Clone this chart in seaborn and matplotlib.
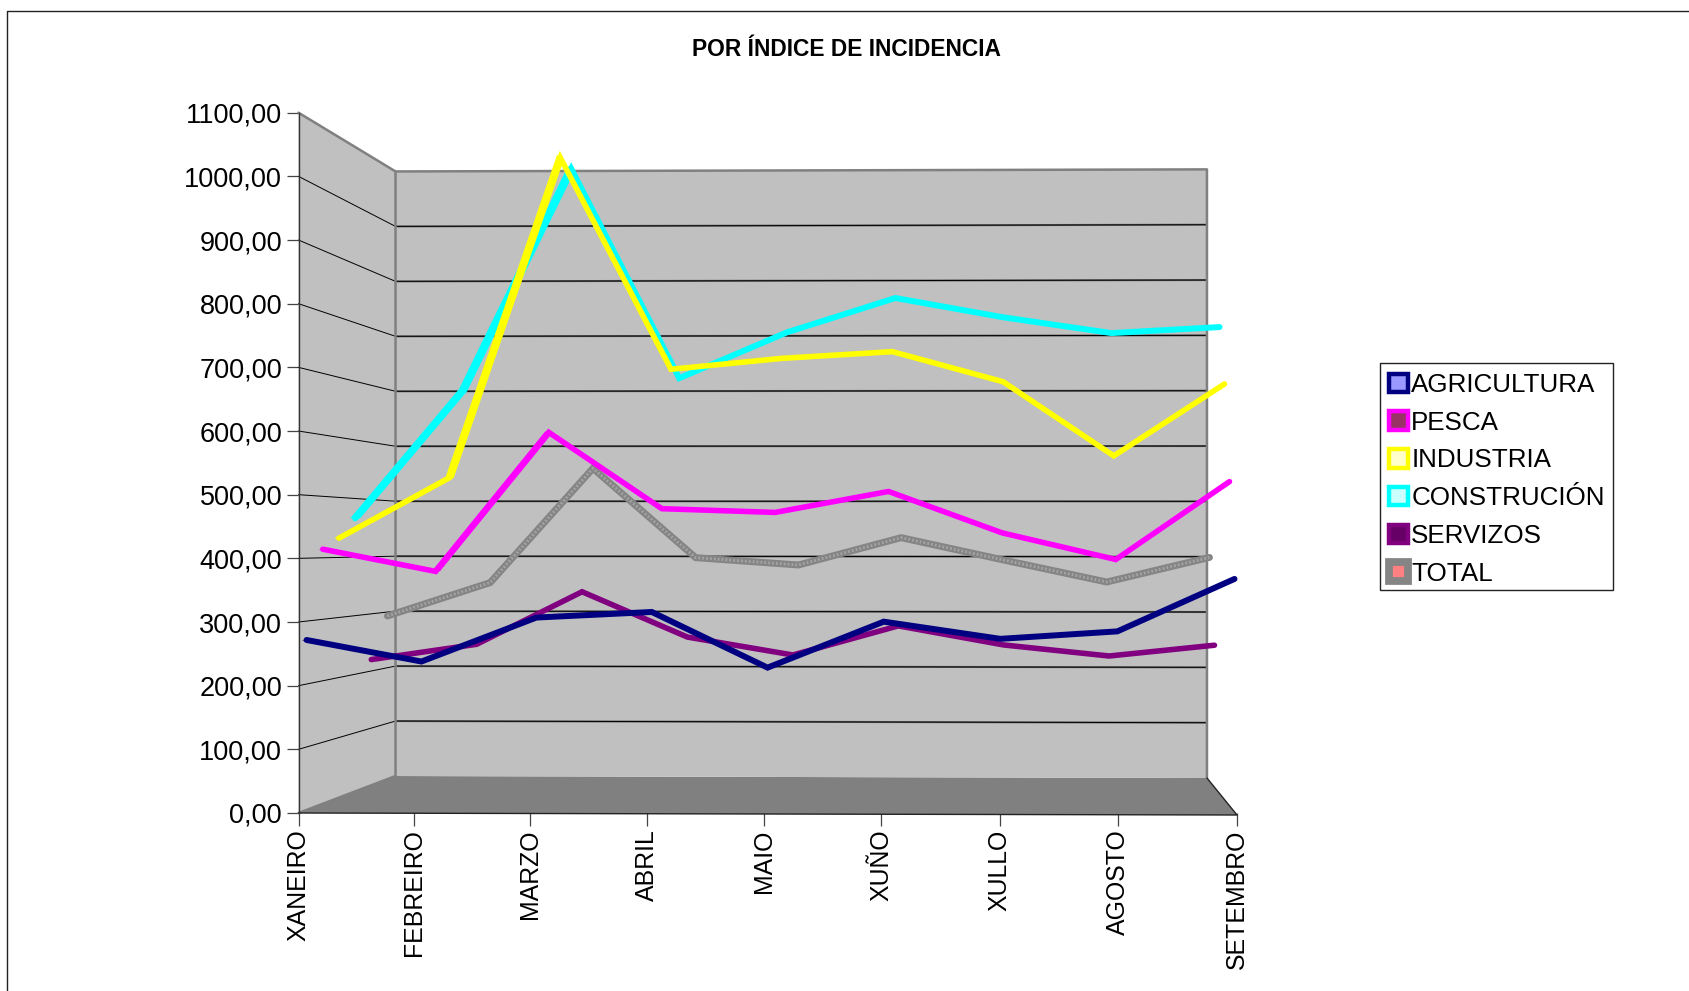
import numpy as np
import pandas as pd
import seaborn as sns
import matplotlib.pyplot as plt
from matplotlib.lines import Line2D
from matplotlib.patches import Patch, Rectangle
from matplotlib.transforms import ScaledTranslation

meses = ['XANEIRO', 'FEBREIRO', 'MARZO', 'ABRIL', 'MAIO', 'XUÑO', 'XULLO', 'AGOSTO', 'SETEMBRO']
agricultura = [270, 236, 306, 315, 227, 300, 273, 285, 368]
pesca = [414, 378, 604, 480, 474, 508, 441, 398, 524]
industria = [432, 533, 1065, 713, 731, 742, 692, 569, 688]
construcion = [466, 685, 1062, 705, 783, 841, 808, 781, 791]
servizos = [220, 247, 339, 260, 229, 280, 247, 228, 247]
total = [293, 353, 558, 398, 385, 434, 394, 355, 399]

series = ['AGRICULTURA', 'PESCA', 'INDUSTRIA', 'CONSTRUCIÓN', 'SERVIZOS', 'TOTAL']
valores = [agricultura, pesca, industria, construcion, servizos, total]
cores = ['#000080', '#ff00ff', '#ffff00', '#00ffff', '#800080', '#858585']
recheos = ['#9999ff', '#993366', '#ffffcc', '#ccffff', '#660066', '#ff8080']
grosores = [4.3, 4.0, 4.0, 4.3, 4.0, 5.0]
bordos_lenda = [3.2, 3.2, 3.2, 3.2, 3.2, 5.6]
ticks_y = list(range(0, 1101, 100))

W, H = 1689, 991


def proxectar(i, v, d):
    # pseudo 3D: mes, valor e profundidade (0 diante, 1 fondo) -> coordenadas do eixo
    i = np.asarray(i, dtype=float)
    v = np.asarray(v, dtype=float)
    t = i / 8
    x = t * (8 - 0.256 * d) + (1 - t) * 0.827 * d - 0.034 * np.sin(np.pi * t) * np.clip(1 - 3 * d, 0, 1)
    y = 58.1 * d - 3.14 * t + v * (1 - 0.1367 * d + 0.0058 * t)
    return x, y


sns.set_theme(style='white')
plt.rcParams['font.family'] = ['Liberation Sans', 'DejaVu Sans']

fig = plt.figure(figsize=(W / 100, H / 100), dpi=100)
ax = fig.add_axes([298.5 / W, 1 - 813 / H, (1237 - 298.5) / W, (813 - 112.7) / H])
ax.set_xlim(0, 8)
ax.set_ylim(0, 1100)
ax.patch.set_alpha(0)

# paredes e chan
x, y = proxectar([0, 8, 8, 0], [0, 0, 0, 0], np.array([0, 0, 1, 1]))
ax.fill(x, y, color='#808080', lw=0, clip_on=False, zorder=1)
x, y = proxectar([0, 0, 0, 0], [0, 1100, 1100, 0], np.array([0, 0, 1, 1]))
ax.fill(x, y, color='#c0c0c0', lw=0, clip_on=False, zorder=1)
x, y = proxectar([0, 8, 8, 0], [0, 0, 1100, 1100], 1)
ax.fill(x, y, color='#c0c0c0', lw=0, clip_on=False, zorder=1)

for v in ticks_y[1:-1]:
    x, y = proxectar([0, 0], [v, v], np.array([0, 1]))
    ax.plot(x, y, color='black', lw=0.7, clip_on=False, zorder=2)
    x, y = proxectar([0, 8], [v, v], 1)
    ax.plot(x, y, color='#6a6a6a', lw=1.5, clip_on=False, zorder=2)
    ax.plot(x, y, color='black', lw=0.7, clip_on=False, zorder=2)

# bordos das paredes
x, y = proxectar([0, 0, 8, 8], [1100, 1100, 1100, 0], np.array([0, 1, 1, 1]))
ax.plot(x, y, color='#808080', lw=1.8, clip_on=False, zorder=2)
x, y = proxectar([0, 0, 0], [1100, 0, 0], np.array([1, 1, 0]))
ax.plot(x, y, color='#808080', lw=1.8, clip_on=False, zorder=2)
x, y = proxectar([0, 8, 8], [0, 0, 0], np.array([0, 0, 1]))
ax.plot(x, y, color='#222222', lw=1.0, clip_on=False, zorder=3)

# series, do fondo cara a diante
meses_idx = np.arange(len(meses))
for n in range(len(series) - 1, -1, -1):
    d = (n + 0.5) / 6
    px, py = proxectar(meses_idx, valores[n], d)
    z = 10 - n
    # a cinta da liña 3D
    for k in range(len(meses) - 1):
        ii = [k, k + 1, k + 1, k]
        vv = [valores[n][k], valores[n][k + 1], valores[n][k + 1], valores[n][k]]
        dd = np.array([d - 0.05, d - 0.05, d + 0.05, d + 0.05])
        fx, fy = proxectar(ii, vv, dd)
        ax.fill(fx, fy, color=cores[n], lw=0, clip_on=False, zorder=z)
    df = pd.DataFrame({'x': px, 'y': py})
    sns.lineplot(data=df, x='x', y='y', sort=False, estimator=None, color=cores[n],
                 lw=grosores[n], ax=ax, zorder=z, clip_on=False,
                 solid_capstyle='round', solid_joinstyle='miter')
    if series[n] == 'TOTAL':
        # o trazo punteado do gris
        ax.plot(px, py, color='#a6a6a6', lw=2.0, ls=(0, (0.6, 0.8)), zorder=z, clip_on=False)

ax.set_xlabel('')
ax.set_ylabel('')
ax.set_xticks(proxectar(meses_idx, 0, 0)[0])
ax.set_xticklabels(meses, rotation=90, ha='center', va='top', fontsize=17.9, color='black')
ax.set_yticks(ticks_y)
ax.set_yticklabels([f'{v},00' for v in ticks_y], fontsize=19.5, color='black')
arriba = ScaledTranslation(0, 4 / 100, fig.dpi_scale_trans)
for lab in ax.get_yticklabels():
    lab.set_transform(lab.get_transform() + arriba)
dereita = ScaledTranslation(1.5 / 100, 0, fig.dpi_scale_trans)
for lab in ax.get_xticklabels():
    lab.set_transform(lab.get_transform() + dereita)
ax.tick_params(axis='x', bottom=True, length=9.4, width=0.9, color='#444444', pad=2.4)
ax.tick_params(axis='y', left=True, length=8.6, width=0.9, color='#444444', pad=3.2)
for lado in ['top', 'right', 'bottom']:
    ax.spines[lado].set_visible(False)
ax.spines['left'].set_color('#333333')
ax.spines['left'].set_linewidth(1.0)
ax.spines['left'].set_zorder(3)

fig.text(846 / W, 1 - 50 / H, 'POR ÍNDICE DE INCIDENCIA', ha='center', va='center',
         fontsize=16.4, fontweight='bold', color='black')

# marco exterior
fig.add_artist(Line2D([7.5 / W, 7.5 / W, 1], [0, 1 - 11 / H, 1 - 11 / H], color='#222222', lw=1.0))

# lenda: o marco vai aparte para axustalo ao orixinal
marco = Rectangle((1380 / W, 1 - 590 / H), 232.5 / W, 227 / H, transform=fig.transFigure,
                  facecolor='white', edgecolor='#222222', lw=1.0, zorder=-1)
fig.add_artist(marco)
handles = [Patch(facecolor=recheos[n], edgecolor=cores[n], lw=bordos_lenda[n], label=series[n]) for n in range(6)]
leg = ax.legend(handles=handles, loc='upper left', bbox_to_anchor=(1378 / W, 1 - 362 / H),
                bbox_transform=fig.transFigure, borderaxespad=0, fontsize=18.7, frameon=False,
                handlelength=0.72, handleheight=0.72, handletextpad=0.14, labelspacing=0.53,
                borderpad=0.42)
leg.set_zorder(20)
for t in leg.get_texts():
    t.set_color('black')

fig.savefig('out.png', dpi=100, facecolor='white')
